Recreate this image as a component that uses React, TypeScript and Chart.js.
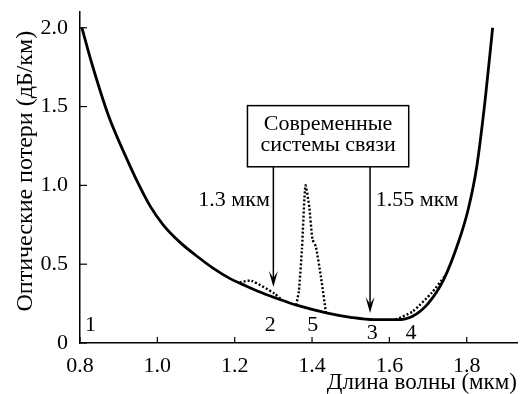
import React, { useEffect, useRef } from "react";
import { Chart, registerables } from "chart.js";

Chart.register(...registerables);

// Main loss curve (wavelength in µm, loss in dB/km)
const mainX = [0.805, 0.831, 0.874, 0.917, 0.947, 0.981, 1.015, 1.058, 1.10, 1.144, 1.187, 1.22, 1.26, 1.31, 1.36, 1.44, 1.50, 1.56, 1.62, 1.66, 1.70, 1.74, 1.78, 1.805, 1.826, 1.848, 1.867];
const mainY = [2.0, 1.77, 1.44, 1.19, 1.03, 0.87, 0.75, 0.64, 0.555, 0.475, 0.41, 0.372, 0.328, 0.282, 0.24, 0.19, 0.163, 0.148, 0.148, 0.17, 0.25, 0.40, 0.65, 0.86, 1.12, 1.55, 2.0];

// Dotted curves
const dot2X = [1.213, 1.243, 1.303, 1.318];
const dot2Y = [0.385, 0.395, 0.314, 0.282];
const dot5X = [1.359, 1.366, 1.374, 1.383, 1.393, 1.401, 1.410, 1.423, 1.436];
const dot5Y = [0.24, 0.33, 0.60, 1.0, 0.86, 0.66, 0.61, 0.42, 0.19];
const dot4X = [1.616, 1.66, 1.71, 1.742];
const dot4Y = [0.148, 0.20, 0.32, 0.42];

// Axes
const xTicks = [0.8, 1.0, 1.2, 1.4, 1.6, 1.8];
const yTicks = [0, 0.5, 1.0, 1.5, 2.0];
const xTitle = "Длина волны (мкм)";
const yTitle = "Оптические потери (дБ/км)";

// Annotations
const curveLabels = ["1", "2", "5", "3", "4"];
const curveLabelX = [0.827, 1.292, 1.402, 1.556, 1.656];
const curveLabelY = [0.114, 0.114, 0.114, 0.065, 0.065];
const arrowX = [1.3, 1.55];
const arrowTipY = [0.356, 0.19];
const arrowTexts = ["1.3 мкм", "1.55 мкм"];
const arrowTextX = [1.291, 1.565];
const arrowTextY = [0.908, 0.908];
const boxLines = ["Современные", "системы связи"];
const boxXRange = [1.233, 1.65];
const boxYRange = [1.118, 1.506];
const boxLineY = [1.385, 1.252];
const yTitleCenter = 1.09;

const FONT = '"Liberation Serif", "Times New Roman", serif';

const annotPlugin = {
  id: "annot",
  afterDraw(chart: any) {
    const { ctx, scales } = chart;
    const xs = scales.x;
    const ys = scales.y;
    const area = chart.chartArea;
    ctx.save();
    ctx.strokeStyle = "#000";
    ctx.fillStyle = "#000";
    // inward ticks
    ctx.lineWidth = 1.2;
    xTicks.forEach((v) => {
      const px = xs.getPixelForValue(v);
      ctx.beginPath();
      ctx.moveTo(px, area.bottom);
      ctx.lineTo(px, area.bottom - 6);
      ctx.stroke();
    });
    yTicks.forEach((v) => {
      const py = ys.getPixelForValue(v);
      ctx.beginPath();
      ctx.moveTo(area.left, py);
      ctx.lineTo(area.left + 7, py);
      ctx.stroke();
    });
    // y-axis title
    ctx.save();
    ctx.font = `24px ${FONT}`;
    ctx.textAlign = "center";
    ctx.textBaseline = "middle";
    ctx.translate(26, ys.getPixelForValue(yTitleCenter));
    ctx.rotate(-Math.PI / 2);
    ctx.fillText(yTitle, 0, 0);
    ctx.restore();
    // box
    const bx0 = xs.getPixelForValue(boxXRange[0]);
    const bx1 = xs.getPixelForValue(boxXRange[1]);
    const by0 = ys.getPixelForValue(boxYRange[1]);
    const by1 = ys.getPixelForValue(boxYRange[0]);
    ctx.lineWidth = 1.5;
    ctx.strokeRect(bx0, by0, bx1 - bx0, by1 - by0);
    ctx.font = `22px ${FONT}`;
    ctx.textAlign = "center";
    ctx.textBaseline = "middle";
    const cx = (bx0 + bx1) / 2;
    boxLines.forEach((t, i) => {
      ctx.fillText(t, cx, ys.getPixelForValue(boxLineY[i]));
    });
    // arrows
    arrowX.forEach((v, i) => {
      const px = xs.getPixelForValue(v);
      const tip = ys.getPixelForValue(arrowTipY[i]);
      ctx.lineWidth = 1.5;
      ctx.beginPath();
      ctx.moveTo(px, by1);
      ctx.lineTo(px, tip - 8);
      ctx.stroke();
      ctx.beginPath();
      ctx.moveTo(px - 4.5, tip - 16);
      ctx.lineTo(px, tip);
      ctx.lineTo(px + 4.5, tip - 16);
      ctx.lineTo(px, tip - 9);
      ctx.closePath();
      ctx.fill();
    });
    // arrow texts
    arrowTexts.forEach((t, i) => {
      ctx.textAlign = i === 0 ? "right" : "left";
      ctx.fillText(t, xs.getPixelForValue(arrowTextX[i]), ys.getPixelForValue(arrowTextY[i]));
    });
    // curve labels
    ctx.textAlign = "center";
    curveLabels.forEach((t, i) => {
      ctx.fillText(t, xs.getPixelForValue(curveLabelX[i]), ys.getPixelForValue(curveLabelY[i]));
    });
    ctx.restore();
  },
};

export default function App() {
  const ref = useRef<HTMLCanvasElement | null>(null);
  useEffect(() => {
    document.body.style.margin = "0";
    const toPts = (xa: number[], ya: number[]) => xa.map((x, i) => ({ x, y: ya[i] }));
    const dotted = (xa: number[], ya: number[]) => ({
      data: toPts(xa, ya),
      borderColor: "#000",
      borderWidth: 2.4,
      borderDash: [2, 2],
      pointRadius: 0,
      tension: 0.2,
      fill: false,
    });
    const chart = new Chart(ref.current as HTMLCanvasElement, {
      type: "line",
      data: {
        datasets: [
          dotted(dot2X, dot2Y),
          dotted(dot5X, dot5Y),
          dotted(dot4X, dot4Y),
          {
            data: toPts(mainX, mainY),
            borderColor: "#000",
            borderWidth: 2.8,
            pointRadius: 0,
            cubicInterpolationMode: "monotone",
            fill: false,
          },
        ],
      },
      options: {
        responsive: false,
        animation: false,
        devicePixelRatio: 1,
        layout: { padding: { top: 12, right: 3, left: 0, bottom: 0 } },
        plugins: { legend: { display: false }, tooltip: { enabled: false } },
        scales: {
          x: {
            type: "linear",
            min: 0.8,
            max: 1.93,
            afterBuildTicks: (s: any) => {
              s.ticks = xTicks.map((v) => ({ value: v }));
            },
            afterFit: (s: any) => {
              s.height = 51;
              s.paddingLeft = 0;
              s.paddingRight = 0;
            },
            grid: { display: false, drawTicks: false, tickLength: 0 },
            border: { display: true, color: "#000", width: 1.5 },
            ticks: {
              color: "#000",
              padding: 10,
              maxRotation: 0,
              autoSkip: false,
              font: { family: FONT, size: 22 },
              callback: (v: any) => Number(v).toFixed(1),
            },
            title: {
              display: true,
              text: xTitle,
              align: "end",
              color: "#000",
              font: { family: FONT, size: 23, lineHeight: 1 },
              padding: { top: 0, bottom: 0 },
            },
          },
          y: {
            type: "linear",
            min: 0,
            max: 2.1,
            afterBuildTicks: (s: any) => {
              s.ticks = yTicks.map((v) => ({ value: v }));
            },
            afterFit: (s: any) => {
              s.width = 80;
              s.paddingTop = 0;
              s.paddingBottom = 0;
            },
            grid: { display: false, drawTicks: false, tickLength: 0 },
            border: { display: true, color: "#000", width: 1.5 },
            ticks: {
              color: "#000",
              padding: 12,
              autoSkip: false,
              font: { family: FONT, size: 22 },
              callback: (v: any) => (Number(v) === 0 ? "0" : Number(v).toFixed(1)),
            },
            title: { display: false },
          },
        },
      },
      plugins: [annotPlugin],
    } as any);
    return () => chart.destroy();
  }, []);
  return <canvas ref={ref} width={520} height={394} style={{ display: "block" }} />;
}
